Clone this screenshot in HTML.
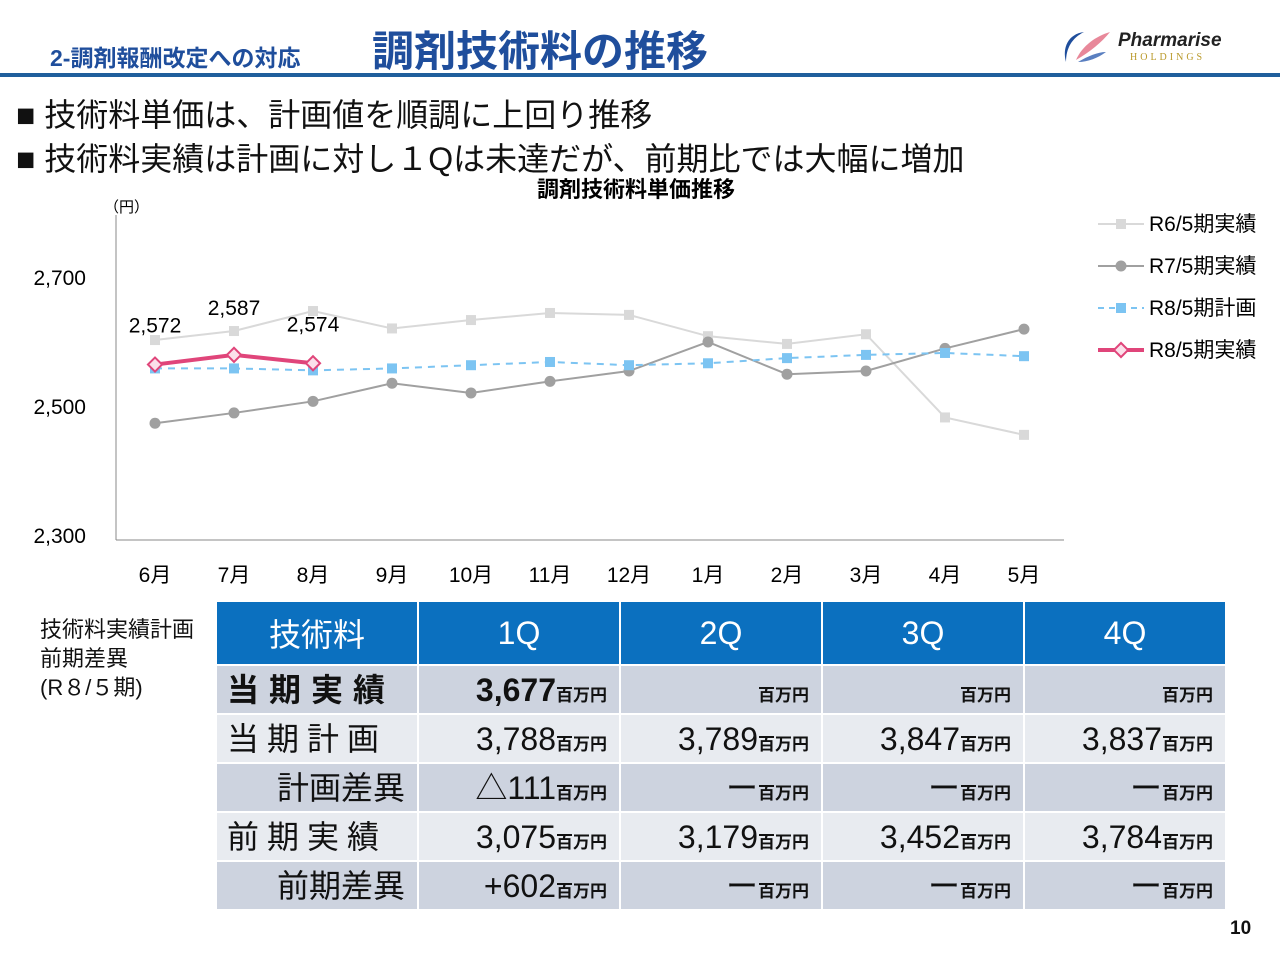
<!DOCTYPE html>
<html><head><meta charset="utf-8"><style>
body{margin:0;width:1280px;height:960px;background:#fff;position:relative;overflow:hidden;font-family:"Liberation Sans","Noto Sans CJK JP",sans-serif;color:#111}
.abs{position:absolute;white-space:nowrap}
table{position:absolute;left:215px;top:600px;border-collapse:separate;border-spacing:2px;table-layout:fixed;width:1010px}
td{height:47px;padding:0 12px;text-align:right;font-size:32px;white-space:nowrap;overflow:hidden;line-height:1;box-sizing:border-box}
th{height:62px;background:#0b70bf;color:#fff;font-weight:normal;font-size:32px;padding:0}
.d td{background:#cdd3df}.l td{background:#e8ebf0}
small{font-size:17px;font-weight:bold}
.sp{text-align:left!important;letter-spacing:8px;padding-left:10px}
</style></head><body>
<div class="abs" style="left:50px;top:39px;font-size:23px;font-weight:bold;color:#1f4e9c">2-調剤報酬改定への対応</div>
<div class="abs" style="left:372px;top:18px;font-size:42px;font-weight:bold;color:#1f4e9c">調剤技術料の推移</div>
<div class="abs" style="left:1062px;top:26px;width:165px;height:40px">
<svg width="50" height="40" style="position:absolute;left:0;top:0"><path d="M22 6 C6 8 0 22 4 36 C4 22 10 12 22 6Z" fill="#1f4e9c"/><path d="M14 34 C20 20 34 10 48 6 C40 16 28 26 14 34Z" fill="#e8889a"/><path d="M16 36 C26 30 36 26 44 26 C36 32 26 36 16 36Z" fill="#5a7fc0"/></svg>
<span class="abs" style="left:56px;top:4px;font-size:19px;font-weight:bold;font-style:italic;color:#222">Pharmarise</span>
<span class="abs" style="left:68px;top:26px;font-size:10px;letter-spacing:3px;color:#b9992a;font-family:'Liberation Serif',serif">HOLDINGS</span></div>
<div class="abs" style="left:0;top:73px;width:1280px;height:4px;background:#1f5f9c"></div>
<div class="abs" style="left:16px;top:90px;font-size:32px">■ 技術料単価は、計画値を順調に上回り推移</div>
<div class="abs" style="left:16px;top:134px;font-size:32px">■ 技術料実績は計画に対し１Qは未達だが、前期比では大幅に増加</div>
<svg class="abs" style="left:0;top:0" width="1280" height="600" id="ch"></svg>
<div class="abs" style="left:40px;top:615px;font-size:22px;line-height:29px">技術料実績計画<br>前期差異<br>(R８/５期)</div>
<table>
<colgroup><col style="width:200px"><col style="width:200px"><col style="width:200px"><col style="width:200px"><col style="width:200px"></colgroup>
<tr><th>技術料</th><th>1Q</th><th>2Q</th><th>3Q</th><th>4Q</th></tr>
<tr class="d"><td class="sp" style="font-weight:bold;letter-spacing:10px">当期実績</td><td style="font-weight:bold">3,677<small>百万円</small></td><td><small>百万円</small></td><td><small>百万円</small></td><td><small>百万円</small></td></tr>
<tr class="l"><td class="sp">当期計画</td><td>3,788<small>百万円</small></td><td>3,789<small>百万円</small></td><td>3,847<small>百万円</small></td><td>3,837<small>百万円</small></td></tr>
<tr class="d"><td>計画差異</td><td>△111<small>百万円</small></td><td>ー<small>百万円</small></td><td>ー<small>百万円</small></td><td>ー<small>百万円</small></td></tr>
<tr class="l"><td class="sp">前期実績</td><td>3,075<small>百万円</small></td><td>3,179<small>百万円</small></td><td>3,452<small>百万円</small></td><td>3,784<small>百万円</small></td></tr>
<tr class="d"><td>前期差異</td><td>+602<small>百万円</small></td><td>ー<small>百万円</small></td><td>ー<small>百万円</small></td><td>ー<small>百万円</small></td></tr>
</table>
<div class="abs" style="left:1230px;top:918px;font-size:19px;font-weight:bold">10</div>
<script>
const months=["6月","7月","8月","9月","10月","11月","12月","1月","2月","3月","4月","5月"];
const yTicks=[2300,2500,2700];
const r6=[2610,2624,2655,2628,2641,2652,2649,2616,2604,2619,2490,2463];
const r7=[2481,2497,2515,2543,2528,2546,2562,2607,2557,2562,2597,2627];
const r8plan=[2566,2566,2563,2566,2571,2576,2571,2574,2582,2587,2590,2585];
const r8act=[2572,2587,2574];
const r8labels=["2,572","2,587","2,574"];
const svg=document.getElementById('ch');const NS="http://www.w3.org/2000/svg";
const x=i=>155+i*79, y=v=>540-(v-2300)*0.645;
function el(t,a,p){const e=document.createElementNS(NS,t);for(const k in a)e.setAttribute(k,a[k]);(p||svg).appendChild(e);return e;}
function tx(s,a){const e=el('text',Object.assign({'font-family':'Liberation Sans, Noto Sans CJK JP, sans-serif'},a));e.textContent=s;return e;}
const t=tx("調剤技術料単価推移",{x:636,y:197,'font-size':22,'font-weight':'bold','text-anchor':'middle'});


const u=tx("（円）",{x:104,y:212,'font-size':15});


el('line',{x1:116,y1:215,x2:116,y2:540,stroke:'#888'});
el('line',{x1:116,y1:540,x2:1064,y2:540,stroke:'#888'});
yTicks.forEach(v=>{const e=tx(v.toLocaleString('en-US'),{x:86,y:y(v)+3,'font-size':21,'text-anchor':'end'});

});
months.forEach((m,i)=>{const e=tx(m,{x:x(i),y:582,'font-size':21,'text-anchor':'middle'});

});
function series(d,c,w,dash,mk,name){const p=el('polyline',{points:d.map((v,i)=>x(i)+','+y(v)).join(' '),fill:'none',stroke:c,'stroke-width':w,'stroke-dasharray':dash||''});


d.forEach((v,i)=>{let m;if(mk=='sq')m=el('rect',{x:x(i)-5,y:y(v)-5,width:10,height:10,fill:c});
else if(mk=='c')m=el('circle',{cx:x(i),cy:y(v),r:5.5,fill:c});
else m=el('rect',{x:x(i)-5,y:y(v)-5,width:10,height:10,fill:'#fbe0ea',stroke:c,'stroke-width':2,transform:`rotate(45 ${x(i)} ${y(v)})`});

});}
series(r6,'#d9d9d9',2,'','sq','r6');
series(r7,'#a0a0a0',2,'','c','r7');
series(r8plan,'#7cc4f2',2,'7 6','sq','r8plan');
series(r8act,'#e0457a',4,'','d','r8act');
r8act.forEach((v,i)=>{const e=tx(r8labels[i],{x:x(i),y:y(v)-32+(i==1?-8:0),'font-size':21,'text-anchor':'middle'});

});
const leg=[["R6/5期実績",'#d9d9d9','sq',''],["R7/5期実績",'#a0a0a0','c',''],["R8/5期計画",'#7cc4f2','sq','6 5'],["R8/5期実績",'#e0457a','d','']];
leg.forEach((l,i)=>{const yy=224+i*42;const g=el('g',{});


el('line',{x1:1098,y1:yy,x2:1144,y2:yy,stroke:l[1],'stroke-width':l[2]=='d'?4:2,'stroke-dasharray':l[3]},g);
if(l[2]=='sq')el('rect',{x:1116,y:yy-5,width:10,height:10,fill:l[1]},g);
else if(l[2]=='c')el('circle',{cx:1121,cy:yy,r:5.5,fill:l[1]},g);
else el('rect',{x:1116,y:yy-5,width:10,height:10,fill:'#fbe0ea',stroke:l[1],'stroke-width':2,transform:`rotate(45 1121 ${yy})`},g);
const s=document.createElementNS(NS,'text');s.setAttribute('x',1149);s.setAttribute('y',yy+7);s.setAttribute('font-size',21);s.setAttribute('font-family','Liberation Sans, Noto Sans CJK JP, sans-serif');s.textContent=l[0];g.appendChild(s);});
</script>
</body></html>
